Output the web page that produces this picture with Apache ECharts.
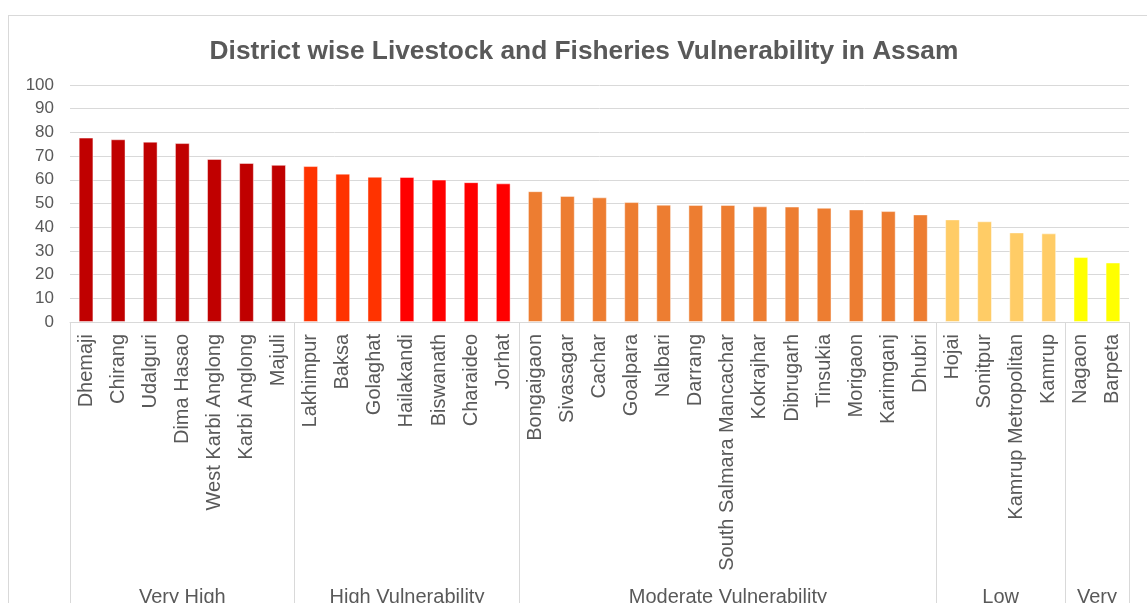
<!DOCTYPE html>
<html style="height: 100%">

<head>
	<meta charset="utf-8">
	<style>
		body { margin: 0; width: 1147px; height: 603px; overflow: hidden; position: relative; background: #fff; }
		#frame { position: absolute; left: 8px; top: 15px; width: 1200px; height: 700px; border: 1px solid #d9d9d9; box-sizing: border-box; }
		#container { position: absolute; left: 0; top: 0; width: 1147px; height: 603px; }
	</style>
</head>

<body>
	<div id="frame"></div>
	<div id="container"></div>
	<script type="text/javascript" src="https://cdn.jsdelivr.net/npm/echarts@6/dist/echarts.min.js"></script>
	<script type="text/javascript">
		// districts, left to right
		const districts = [
			'Dhemaji', 'Chirang', 'Udalguri', 'Dima Hasao', 'West Karbi Anglong', 'Karbi Anglong', 'Majuli',
			'Lakhimpur', 'Baksa', 'Golaghat', 'Hailakandi', 'Biswanath', 'Charaideo', 'Jorhat',
			'Bongaigaon', 'Sivasagar', 'Cachar', 'Goalpara', 'Nalbari', 'Darrang', 'South Salmara Mancachar',
			'Kokrajhar', 'Dibrugarh', 'Tinsukia', 'Morigaon', 'Karimganj', 'Dhubri',
			'Hojai', 'Sonitpur', 'Kamrup Metropolitan', 'Kamrup',
			'Nagaon', 'Barpeta'
		];
		// vulnerability index
		const values = [
			77.8, 77.1, 76.1, 75.5, 68.8, 67.1, 66.3,
			65.8, 62.6, 61.3, 61.2, 60.1, 59.0, 58.5,
			55.2, 53.2, 52.6, 50.6, 49.5, 49.4, 49.4,
			48.8, 48.7, 48.2, 47.5, 46.8, 45.4,
			43.3, 42.5, 37.8, 37.4,
			27.4, 25.1
		];
		// vulnerability classes (second axis level)
		const groupNames = ['Very High', 'High Vulnerability', 'Moderate Vulnerability', 'Low', 'Very\nLow'];
		const groupSizes = [7, 7, 13, 4, 2];
		const yTicks = [0, 10, 20, 30, 40, 50, 60, 70, 80, 90, 100];

		// bar colours
		const barColors = [
			'#C00000', '#C00000', '#C00000', '#C00000', '#C00000', '#C00000', '#C00000',
			'#FF3300', '#FF3300', '#FF3300', '#FF0000', '#FF0000', '#FF0000', '#FF0000',
			'#ED7D31', '#ED7D31', '#ED7D31', '#ED7D31', '#ED7D31', '#ED7D31', '#ED7D31',
			'#ED7D31', '#ED7D31', '#ED7D31', '#ED7D31', '#ED7D31', '#ED7D31',
			'#FFCC66', '#FFCC66', '#FFCC66', '#FFCC66',
			'#FFFF00', '#FFFF00'
		];

		const font = "'Liberation Sans', Arial, sans-serif";
		const textColor = '#595959';
		const gridColor = '#d9d9d9';

		// group boundaries and centres on a 0..n value scale
		let bounds = [0];
		let centers = [];
		groupSizes.forEach(function (s) {
			let start = bounds[bounds.length - 1];
			centers.push(start + s / 2);
			bounds.push(start + s);
		});

		let dom = document.getElementById('container');
		let myChart = echarts.init(dom);

		let option = {
			animation: false,
			title: {
				text: 'District wise Livestock and Fisheries Vulnerability in Assam',
				left: 579,
				top: 34,
				textAlign: 'center',
				textStyle: {
					fontFamily: font,
					fontSize: 26.3,
					fontWeight: 'bold',
					color: textColor
				}
			},
			grid: {
				left: 70,
				right: 18,
				top: 85,
				bottom: 281,
				containLabel: false,
				outerBoundsMode: 'none'
			},
			xAxis: [
				{
					type: 'category',
					data: districts,
					axisLine: { lineStyle: { color: gridColor, width: 1 } },
					axisTick: { show: false },
					axisLabel: {
						interval: 0,
						rotate: 90,
						margin: 12,
						fontFamily: font,
						fontSize: 20,
						color: textColor
					}
				},
				{
					type: 'value',
					min: 0,
					max: districts.length,
					position: 'bottom',
					axisLine: { show: false },
					splitLine: { show: false },
					axisTick: {
						show: true,
						customValues: bounds,
						length: 320,
						lineStyle: { color: gridColor, width: 1 }
					},
					axisLabel: {
						customValues: centers,
						margin: 263,
						verticalAlign: 'top',
						lineHeight: 24,
						fontFamily: font,
						fontSize: 20,
						color: textColor,
						formatter: function (v) {
							let i = centers.indexOf(v);
							return i >= 0 ? groupNames[i] : '';
						}
					}
				}
			],
			yAxis: {
				type: 'value',
				min: yTicks[0],
				max: yTicks[yTicks.length - 1],
				interval: 10,
				axisLine: { show: false },
				axisTick: { show: false },
				splitLine: { lineStyle: { color: gridColor, width: 1 } },
				axisLabel: {
					margin: 16,
					fontFamily: font,
					fontSize: 17,
					color: textColor
				}
			},
			series: [
				{
					type: 'bar',
					xAxisIndex: 0,
					barCategoryGap: '54%',
					data: values.map(function (v, i) {
						return {
							value: v,
							itemStyle: {
								color: barColors[i],
								borderColor: 'rgba(255,255,255,0.45)',
								borderWidth: 1
							}
						};
					})
				}
			]
		};

		myChart.setOption(option);
	</script>
</body>
</html>
